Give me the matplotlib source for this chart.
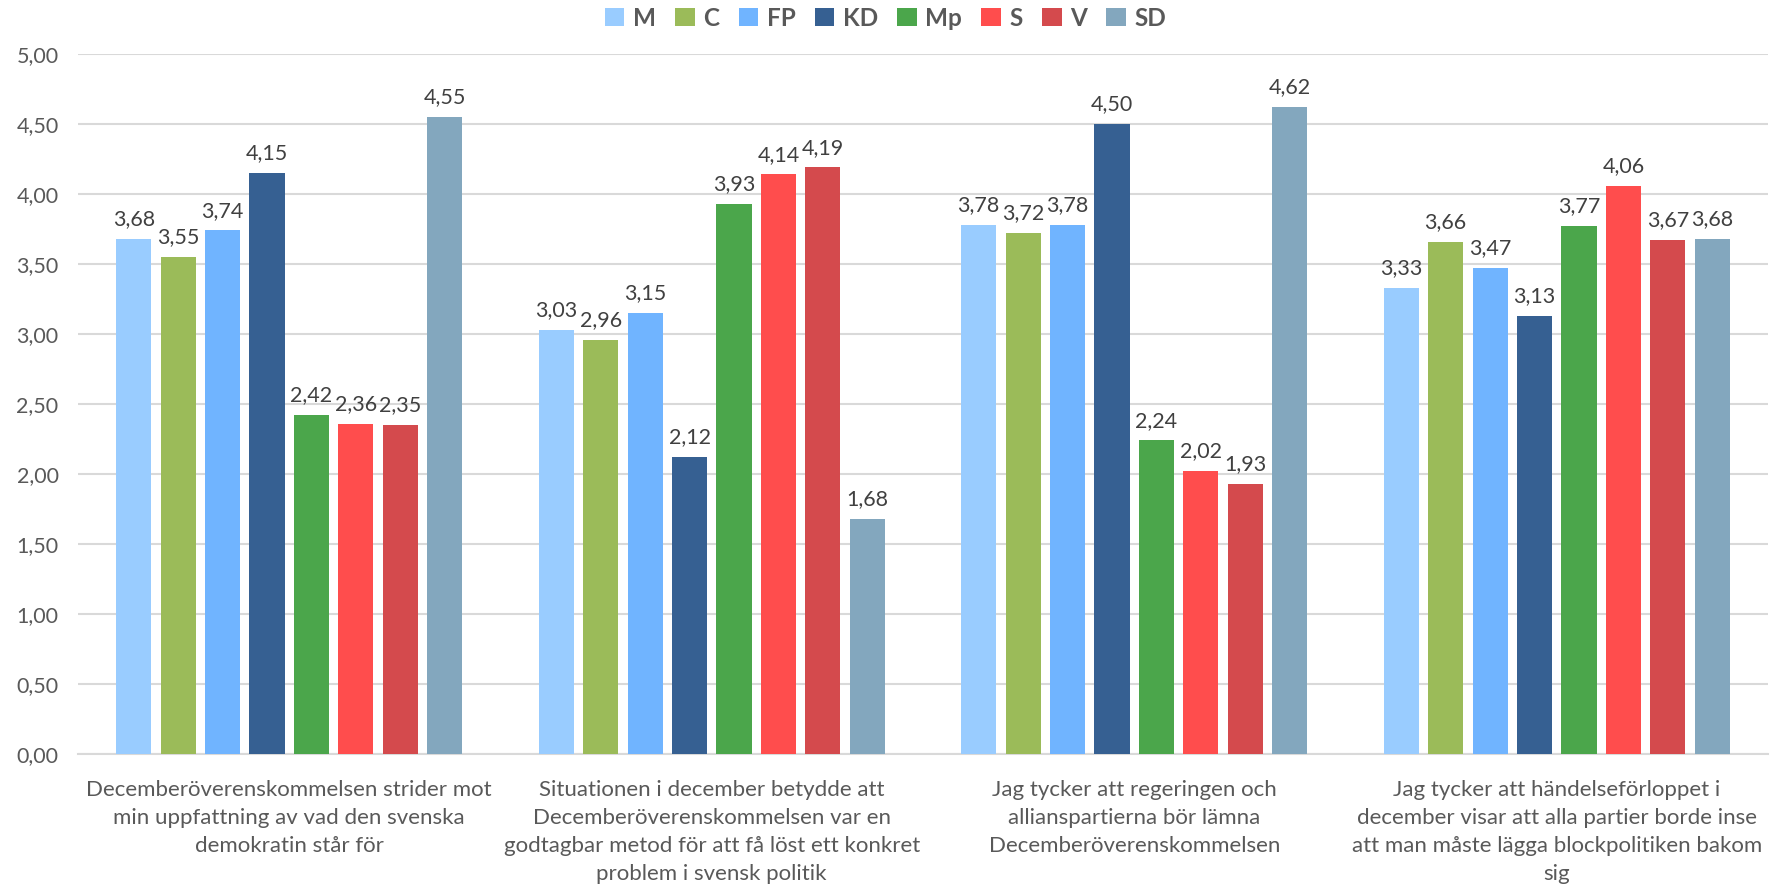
import numpy as np
import matplotlib
matplotlib.use("Agg")
import matplotlib.pyplot as plt

plt.rcParams['font.family'] = ['Lato', 'DejaVu Sans']

# survey statements (x categories)
categories = [
    "Decemberöverenskommelsen strider mot\nmin uppfattning av vad den svenska\ndemokratin står för",
    "Situationen i december betydde att\nDecemberöverenskommelsen var en\ngodtagbar metod för att få löst ett konkret\nproblem i svensk politik",
    "Jag tycker att regeringen och\nallianspartierna bör lämna\nDecemberöverenskommelsen",
    "Jag tycker att händelseförloppet i\ndecember visar att alla partier borde inse\natt man måste lägga blockpolitiken bakom\nsig",
]
parties = ["M", "C", "FP", "KD", "Mp", "S", "V", "SD"]
colors = ["#99CCFF", "#9BBB59", "#70B4FF", "#366092", "#4BA64B", "#FF4D4D", "#D44A4D", "#83A7BE"]

# mean scores per party, one list per statement
M = [3.68, 3.03, 3.78, 3.33]
C = [3.55, 2.96, 3.72, 3.66]
FP = [3.74, 3.15, 3.78, 3.47]
KD = [4.15, 2.12, 4.50, 3.13]
Mp = [2.42, 3.93, 2.24, 3.77]
S = [2.36, 4.14, 2.02, 4.06]
V = [2.35, 4.19, 1.93, 3.67]
SD = [4.55, 1.68, 4.62, 3.68]
values = [M, C, FP, KD, Mp, S, V, SD]

txt = "#595959"
fig = plt.figure(figsize=(17.71, 8.86), dpi=100)
ax = fig.add_axes([78/1771, 1-754/886, 1690/1771, 700/886])

x = np.arange(len(categories))
pitch = 0.1052
width = 0.083
for i, (p, vals, c) in enumerate(zip(parties, values, colors)):
    pos = x + (i - 3.5) * pitch
    bars = ax.bar(pos, vals, width, color=c, label=p, zorder=3)
    for b, v in zip(bars, vals):
        ax.text(b.get_x() + b.get_width()/2, v + 0.07, f"{v:.2f}".replace(".", ","),
                ha="center", va="bottom", fontsize=15.5, color="#404040")

ax.set_xlim(-0.5, 3.5)
ax.set_ylim(0, 5)
yt = np.arange(0, 5.01, 0.5)
ax.set_yticks(yt)
ax.set_yticklabels([f"{t:.2f}".replace(".", ",") for t in yt], fontsize=15.5, color=txt)
ax.set_xticks(x)
ax.set_xticklabels(categories, fontsize=16, color=txt, linespacing=1.5, va="top")
ax.tick_params(axis="both", length=0)
ax.tick_params(axis="x", pad=19)
ax.tick_params(axis="y", pad=14)
ax.grid(axis="y", color="#D9D9D9", linewidth=1.5, zorder=0)
for s in ["top", "right", "left"]:
    ax.spines[s].set_visible(False)
ax.spines["bottom"].set_color("#D9D9D9")
ax.spines["bottom"].set_linewidth(1.5)

leg = fig.legend(loc="center", bbox_to_anchor=(0.5, 1-18/886), ncol=8, frameon=False,
                 prop={"weight": "bold", "size": 17.5}, handlelength=0.8, handleheight=0.8,
                 handletextpad=0.35, columnspacing=0.8)
for t in leg.get_texts():
    t.set_color(txt)

fig.savefig("out.png", dpi=100)
